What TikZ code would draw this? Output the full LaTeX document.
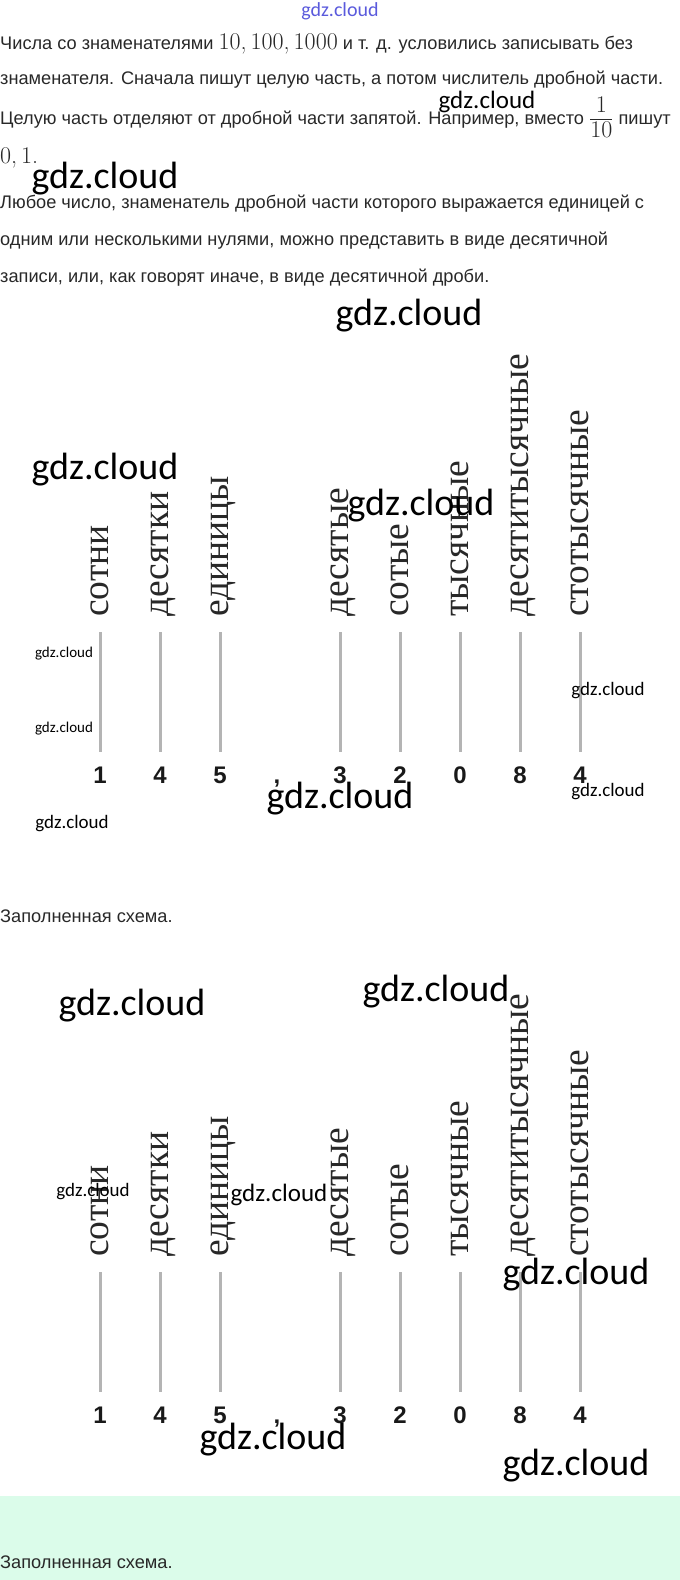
\documentclass[tikz,border=0pt]{standalone}
\usepackage{amsmath}
\usepackage{fontspec}
\setmainfont{Liberation Sans}
\newfontfamily\placefont{Liberation Serif}
\newfontfamily\numfont{Latin Modern Roman}
\newfontfamily\wmfont{Carlito}
\newcommand\num[1]{{\numfont\fontsize{24}{26}\selectfont #1}}
\definecolor{mint}{RGB}{219,252,234}
\definecolor{ink}{RGB}{40,40,40}
\definecolor{rulegray}{RGB}{180,180,180}
\definecolor{wmblue}{RGB}{90,90,220}

\begin{document}
\begin{tikzpicture}[
    x=1pt, y=-1pt,
    every node/.style={inner sep=0pt},
    para/.style={anchor=base west, font=\fontsize{18.2}{20}\selectfont, text=ink},
    place/.style={anchor=base west, rotate=90, font=\placefont\fontsize{37.5}{40}\selectfont, text=ink},
    digit/.style={anchor=base, font=\bfseries\fontsize{24}{26}\selectfont, text=black!90},
    rule/.style={draw=rulegray, line width=3pt},
    wm/.style={font=\wmfont\fontsize{#1}{#1}\selectfont, text=black}
]
\useasboundingbox (0,0) rectangle (680,1580);
\fill[mint] (0,1496) rectangle (680,1580);

% explanation
\node[para] (line1) at (0,49) {Числа со знаменателями \num{10,\,100,\,1000} и т. д. условились записывать без};
\node[para] (line2) at (0,84) {знаменателя. Сначала пишут целую часть, а потом числитель дробной части.};
\node[para] (line3) at (0,124) {Целую часть отделяют от дробной части запятой. Например, вместо
  $\dfrac{\text{\num{1}}}{\text{\num{10}}}$ пишут};
\node[para] (line4) at (0,163) {\num{0,\,1.}};
\node[para] (line5) at (0,208) {Любое число, знаменатель дробной части которого выражается единицей с};
\node[para] (line6) at (0,245) {одним или несколькими нулями, можно представить в виде десятичной};
\node[para] (line7) at (0,282) {записи, или, как говорят иначе, в виде десятичной дроби.};

% the two schemes
\foreach \dy/\s in {0/a, 640/b} {
  \foreach \x/\lab/\dig [count=\i] in {100/сотни/1, 160/десятки/4, 220/единицы/5, 340/десятые/3,
      400/сотые/2, 460/тысячные/0, 520/десятитысячные/8, 580/стотысячные/4} {
    \node[place] (\s-lab\i) at (\x+8, 617+\dy) {\lab};
    \coordinate (\s-top\i) at (\x, 632+\dy);
    \coordinate (\s-bot\i) at (\x, 752+\dy);
    \draw[rule] (\s-top\i) -- (\s-bot\i);
    \node[digit] (\s-dig\i) at (\x, 783+\dy) {\dig};
  }
  \node[digit] (\s-comma) at (277, 783+\dy) {,};
}

\node[para] (done1) at (0,922) {Заполненная схема.};
\node[para] (done2) at (0,1568) {Заполненная схема.};

% watermarks
\node[wm=20, text=wmblue] (wm1) at (340,11) {gdz.cloud};
\node[wm=25] (wm2) at (487,102) {gdz.cloud};
\node[wm=38] (wm3) at (105,179) {gdz.cloud};
\node[wm=38] (wm4) at (409,316) {gdz.cloud};
\node[wm=38] (wm5) at (105,470) {gdz.cloud};
\node[wm=38] (wm6) at (421,506) {gdz.cloud};
\node[wm=15] (wm7) at (64,654) {gdz.cloud};
\node[wm=15] (wm8) at (64,729) {gdz.cloud};
\node[wm=19] (wm9) at (608,691) {gdz.cloud};
\node[wm=38] (wm10) at (340,799) {gdz.cloud};
\node[wm=19] (wm11) at (608,792) {gdz.cloud};
\node[wm=19] (wm12) at (72,824) {gdz.cloud};
\node[wm=38] (wm13) at (132,1006) {gdz.cloud};
\node[wm=38] (wm14) at (436,992) {gdz.cloud};
\node[wm=19] (wm15) at (93,1192) {gdz.cloud};
\node[wm=25] (wm16) at (279,1195) {gdz.cloud};
\node[wm=38] (wm17) at (576,1275) {gdz.cloud};
\node[wm=38] (wm18) at (273,1440) {gdz.cloud};
\node[wm=38] (wm19) at (576,1466) {gdz.cloud};
\end{tikzpicture}
\end{document}
